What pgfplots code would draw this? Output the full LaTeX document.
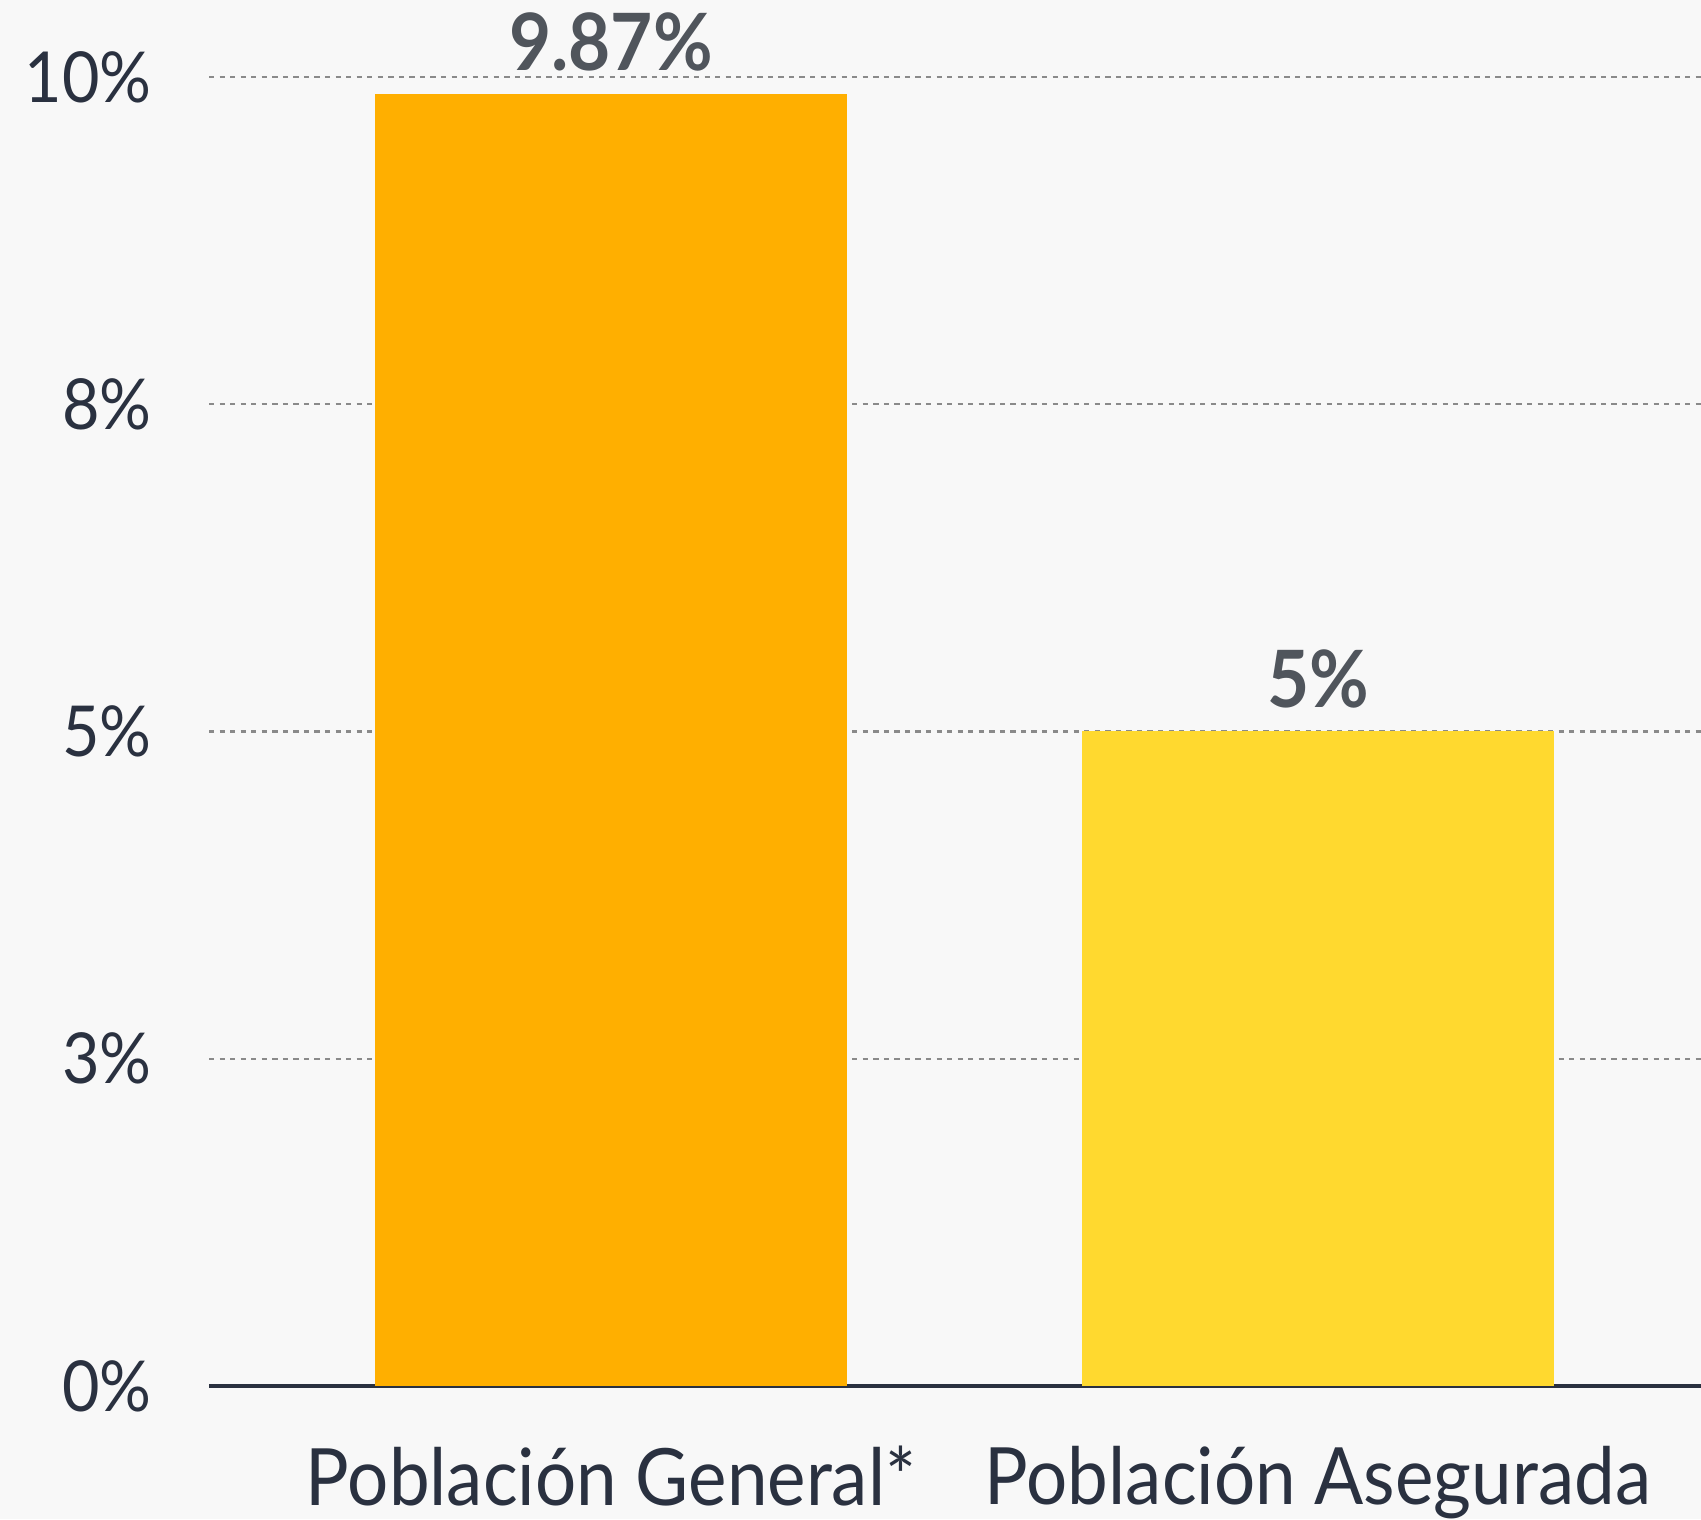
\documentclass[border=0pt]{standalone}
\usepackage{fontspec}
\setmainfont{Lato}[FakeStretch=0.92]
\usepackage{pgfplots}
\pgfplotsset{compat=1.18}

\definecolor{bg}{HTML}{F8F8F8}
\definecolor{orangebar}{HTML}{FFAF00}
\definecolor{yellowbar}{HTML}{FFD92F}
\definecolor{labelgray}{HTML}{50555C}
\definecolor{axisdark}{HTML}{2A3140}
\definecolor{gridgray}{HTML}{8A8A8A}

\begin{document}
\begin{tikzpicture}
\fill[bg] (0,0) rectangle (17.01cm,15.19cm);
\useasboundingbox (0,0) rectangle (17.01cm,15.19cm);
\begin{axis}[
  at={(2.09cm,1.33cm)}, anchor=south west,
  scale only axis, width=14.92cm, height=13.09cm,
  ybar, bar shift=0pt, bar width=4.72cm,
  xmin=-0.5686, xmax=1.5417, ymin=0, ymax=10,
  clip=false,
  axis x line=bottom, axis y line=left,
  x axis line style={draw=axisdark, line width=0.9pt, -},
  y axis line style={draw=none},
  major tick length=0pt,
  xtick={0,1}, xticklabels={Población General*, Población Asegurada},
  ytick={0,2.5,5,7.5,10}, yticklabels={0\%,3\%,5\%,8\%,10\%},
  ymajorgrids,
  grid style={gridgray, line width=0.6pt, dash pattern=on 1.5pt off 1.5pt},
  tick label style={font=\fontsize{20}{24}\selectfont, text=axisdark},
  xticklabel style={font=\fontsize{22.5}{27}\selectfont},
  yticklabel shift=12.8pt,
  xticklabel shift=13.5pt,
  axis background/.style={fill=bg},
  point meta=explicit symbolic,
  nodes near coords,
  every node near coord/.append style={font=\fontsize{22.5}{27}\bfseries\selectfont, text=labelgray, anchor=south, yshift=3pt},
]
\addplot[fill=orangebar, draw=none] coordinates {(0,9.87)[9.87\%]};
\addplot[fill=yellowbar, draw=none] coordinates {(1,5)[5\%]};
\end{axis}
\end{tikzpicture}
\end{document}
